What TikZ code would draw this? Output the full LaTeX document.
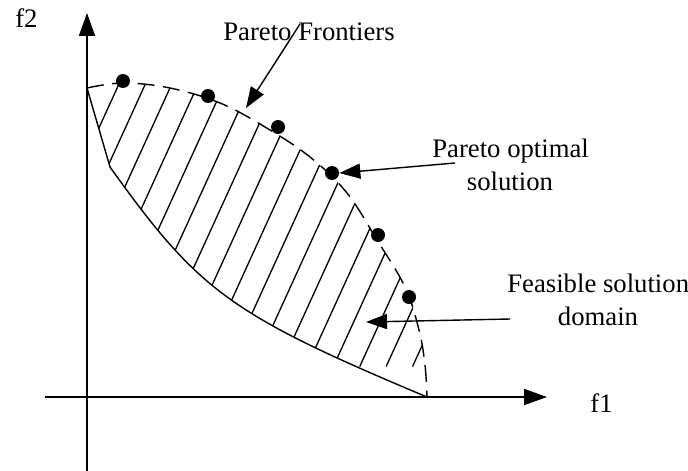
\documentclass[tikz,border=0pt]{standalone}
\usepackage{fontspec}
\setmainfont{Liberation Serif}
\usetikzlibrary{arrows.meta,calc}
\begin{document}
\begin{tikzpicture}[x=0.02cm,y=-0.02cm,
  axis/.style={line width=1pt,-{Triangle[length=0.46cm,width=0.32cm]}},
  pointer/.style={line width=0.8pt,-{Triangle[length=0.42cm,width=0.3cm]}},
  hatch/.style={line width=0.75pt},
  front/.style={line width=0.8pt,dash pattern=on 0.34cm off 0.17cm},
  bound/.style={line width=0.8pt},
  dot/.style={circle,fill=black,minimum size=0.28cm,inner sep=0pt},
  lab/.style={font=\fontsize{15.2}{18}\selectfont,inner sep=0pt}]
\useasboundingbox (0,0) rectangle (688,470);
\fill[white] (0,0) rectangle (688,470);
% hatching clipped to the feasible region
\begin{scope}
\clip plot[smooth,tension=0.6] coordinates {(87,88) (123,83) (170,88) (220,103) (265,127) (310,157) (347,193) (377,240) (405,287) (419,330) (425,365) (427,397)}
  .. controls (230.8,314.6) and (199,291.6) .. (110,167) -- (87,88) -- cycle;
\foreach \i in {0,...,16}{
  \draw[hatch] ($(98+26.4*\i,130)+(-0.415*260,0.910*260)$) -- ++(0.415*520,-0.910*520);
}
\end{scope}
% boundaries
\draw[front] plot[smooth,tension=0.6] coordinates {(87,88) (123,83) (170,88) (220,103) (265,127) (310,157) (347,193) (377,240) (405,287) (419,330) (425,365) (427,397)};
\draw[bound] (87,88) -- (110,167) .. controls (199,291.6) and (230.8,314.6) .. (427,397);
% axes
\coordinate (xs) at (45,397);
\coordinate (xe) at (547,397);
\coordinate (ys) at (87,472);
\coordinate (ye) at (87,13);
\draw[axis] (xs) -- (xe);
\draw[axis] (ys) -- (ye);
% Pareto optimal points
\node[dot] (p1) at (123,81) {};
\node[dot] (p2) at (208,96) {};
\node[dot] (p3) at (278,127) {};
\node[dot] (p4) at (332,173) {};
\node[dot] (p5) at (378,235) {};
\node[dot] (p6) at (409,297) {};
% labels
\node[lab,anchor=base west] (f2) at (15,27) {f2};
\node[lab,anchor=base west] (f1) at (590,412) {f1};
\node[lab,anchor=base west] (pf) at (223,40) {Pareto Frontiers};
\node[lab,anchor=base west] (po) at (432,157) {Pareto optimal};
\node[lab,anchor=base] (pos) at (510,190) {solution};
\node[lab,anchor=base west] (fs) at (507,292) {Feasible solution};
\node[lab,anchor=base] (fsd) at (598,325) {domain};
% pointers
\coordinate (pfs) at (300,24);
\coordinate (pft) at (246,108);
\coordinate (pos1) at (455,163);
\coordinate (fss) at (510,319);
\coordinate (fst) at (366,322);
\draw[pointer] (pfs) -- (pft);
\draw[pointer] (pos1) -- (p4.east);
\draw[pointer] (fss) -- (fst);
\end{tikzpicture}
\end{document}
